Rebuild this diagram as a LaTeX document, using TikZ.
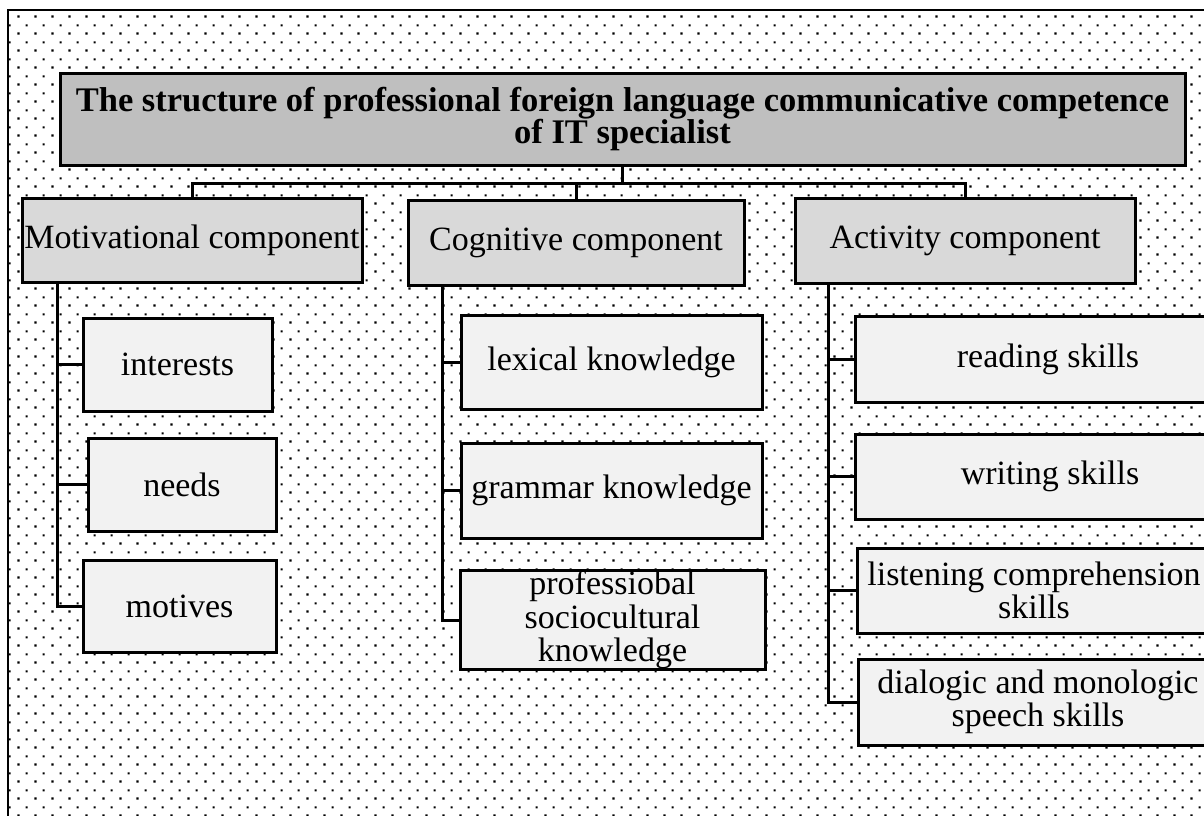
\documentclass[tikz,border=0pt]{standalone}
\usepackage{fontspec}
\setmainfont{Liberation Serif}
\usetikzlibrary{patterns}

% staggered dot grid used as the page background
\pgfdeclarepatternformonly{stagdots}{\pgfqpoint{0pt}{0pt}}{\pgfqpoint{17pt}{17pt}}{\pgfqpoint{17pt}{17pt}}{%
  \pgfpathrectangle{\pgfqpoint{0.5pt}{0.5pt}}{\pgfqpoint{2.2pt}{2.2pt}}%
  \pgfpathrectangle{\pgfqpoint{9pt}{9pt}}{\pgfqpoint{2.2pt}{2.2pt}}%
  \pgfusepath{fill}}

\definecolor{titlegray}{HTML}{BFBFBF}
\definecolor{compgray}{HTML}{D9D9D9}
\definecolor{itemgray}{HTML}{F2F2F2}

\begin{document}
\begin{tikzpicture}[x=1pt,y=-1pt,
  box/.style={draw=black, line width=3pt, inner sep=0pt, align=center,
              font=\fontsize{34}{33.5}\selectfont},
  titlebox/.style={box, fill=titlegray, font=\bfseries\fontsize{34.5}{32.5}\selectfont},
  compbox/.style={box, fill=compgray},
  itembox/.style={box, fill=itemgray},
  link/.style={draw=black, line width=3pt}]

\useasboundingbox (0,0) rectangle (1204,816);
\clip (0,0) rectangle (1204,816);

% background and frame
\fill[pattern=stagdots] (8,10) rectangle (1230,830);
\draw[line width=2pt] (8,830) -- (8,10) -- (1230,10);

% title
\node[titlebox, minimum width=1125, minimum height=92] (title) at (622.5,119)
  {The structure of professional foreign language communicative competence\\ of IT specialist};

% components
\node[compbox, minimum width=340, minimum height=84] (mot) at (192,240) {Motivational component};
\node[compbox, minimum width=336, minimum height=85] (cog) at (576,242.5) {Cognitive component};
\node[compbox, minimum width=340, minimum height=85] (act) at (965,240.5) {Activity component};

% motivational items
\node[itembox, minimum width=189, minimum height=93] (int) at (177.5,364.5) {interests};
\node[itembox, minimum width=188, minimum height=93] (nee) at (182,484.5) {needs};
\node[itembox, minimum width=193, minimum height=92] (motv) at (179.5,606) {motives};

% cognitive items
\node[itembox, minimum width=301, minimum height=94] (lex) at (611.5,362) {lexical knowledge};
\node[itembox, minimum width=301, minimum height=95] (gra) at (611.5,490.5) {grammar knowledge};
\node[itembox, minimum width=305, minimum height=94] (pro) at (612.5,620) {professiobal\\ sociocultural\\ knowledge};

% activity items
\node[itembox, minimum width=386, minimum height=86] (rea) at (1048,359) {reading skills};
\node[itembox, minimum width=390, minimum height=85] (wri) at (1050,476.5) {writing skills};
\node[itembox, minimum width=354, minimum height=85] (lis) at (1034,590.5) {listening comprehension\\ skills};
\node[itembox, minimum width=360, minimum height=86] (dia) at (1038,702) {dialogic and monologic\\ speech skills};

% title to components
\coordinate (bus) at (622.5,183);
\draw[link] (title.south) -- (bus);
\draw[link] (mot.north) |- (bus) -| (act.north);
\draw[link] (cog.north) -- (cog.north |- bus);

% component spines
\coordinate (mspine) at (57,282);
\coordinate (cspine) at (442,285);
\coordinate (aspine) at (828,283);

\draw[link] (mspine) |- (motv.west);
\draw[link] (mspine |- int.west) -- (int.west);
\draw[link] (mspine |- nee.west) -- (nee.west);

\draw[link] (cspine) |- (pro.west);
\draw[link] (cspine |- lex.west) -- (lex.west);
\draw[link] (cspine |- gra.west) -- (gra.west);

\draw[link] (aspine) |- (dia.west);
\draw[link] (aspine |- rea.west) -- (rea.west);
\draw[link] (aspine |- wri.west) -- (wri.west);
\draw[link] (aspine |- lis.west) -- (lis.west);

\end{tikzpicture}
\end{document}
